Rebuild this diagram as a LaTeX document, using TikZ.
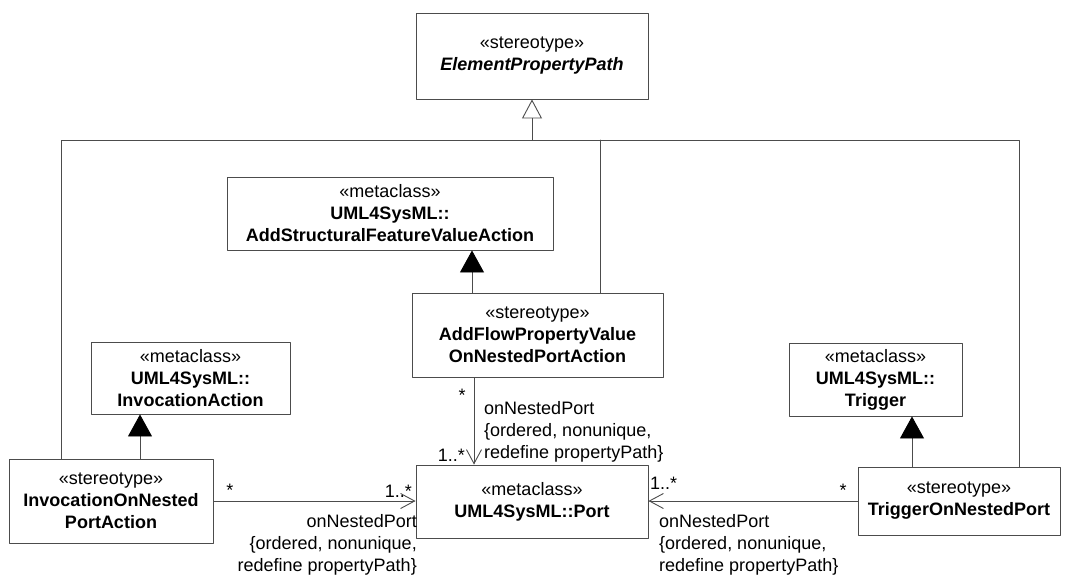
\documentclass[tikz,border=0pt]{standalone}
\usepackage{fontspec}
\setmainfont{Liberation Sans}
\usetikzlibrary{arrows.meta}
\tikzset{
  every picture/.style={line cap=round, line join=round},
  line/.style={draw=black!70, line width=0.9bp},
  box/.style={line, align=center, inner sep=0pt},
  % generalization (open triangle), extension (filled), navigable end
  gen/.style={line, -{Triangle[open, length=19bp, width=20bp, fill=white]}},
  ext/.style={line, -{Triangle[length=22bp, width=24bp, color=black, fill=black]}},
  assoc/.style={line, -{Straight Barb[length=14bp, width=15bp]}},
  mult/.style={inner sep=0pt, anchor=base},
  lbl/.style={inner sep=0pt},
}

\begin{document}
\begin{tikzpicture}[x=1bp, y=-1bp, font=\fontsize{18.07}{22.08}\selectfont]
  \useasboundingbox (0,0) rectangle (1065,578);
  % classes
  \node[box, minimum width=232bp, minimum height=86bp] (epp) at (532,56)
    {«stereotype»\\\textbf{\textit{ElementPropertyPath}}};
  \node[box, minimum width=326bp, minimum height=73bp] (asfva) at (390,213.5)
    {«metaclass»\\\textbf{UML4SysML::}\\\textbf{AddStructuralFeatureValueAction}};
  \node[box, minimum width=251bp, minimum height=84bp] (addflow) at (537.5,335)
    {«stereotype»\\\textbf{AddFlowPropertyValue}\\\textbf{OnNestedPortAction}};
  \node[box, minimum width=199bp, minimum height=72bp] (invact) at (190.5,378)
    {«metaclass»\\\textbf{UML4SysML::}\\\textbf{InvocationAction}};
  \node[box, minimum width=173bp, minimum height=73bp] (trig) at (875.5,379.5)
    {«metaclass»\\\textbf{UML4SysML::}\\\textbf{Trigger}};
  \node[box, minimum width=204bp, minimum height=84bp] (invnp) at (111,501)
    {«stereotype»\\\textbf{InvocationOnNested}\\\textbf{PortAction}};
  \node[box, minimum width=232bp, minimum height=73bp] (port) at (532,501.5)
    {«metaclass»\\\textbf{UML4SysML::Port}};
  \node[box, minimum width=202bp, minimum height=68bp] (trignp) at (959,501)
    {«stereotype»\\\textbf{TriggerOnNestedPort}};
  % where the connectors run
  \coordinate (busL) at (61,140);
  \coordinate (busR) at (1019,140);
  \coordinate (busM) at (600,140);
  \coordinate (colA) at (472,0);
  \coordinate (colB) at (140,0);
  \coordinate (colC) at (912,0);
  \coordinate (colD) at (474,0);
  % generalizations
  \draw[line] (invnp.north -| busL) -- (busL) -- (busR) -- (trignp.north -| busR);
  \draw[line] (addflow.north -| busM) -- (busM);
  \draw[gen] (epp.south |- busL) -- (epp.south);
  % extensions
  \draw[ext] (addflow.north -| colA) -- (asfva.south -| colA);
  \draw[ext] (invnp.north -| colB) -- (invact.south -| colB);
  \draw[ext] (trignp.north -| colC) -- (trig.south -| colC);
  % associations
  \draw[assoc] (invnp.east) -- (port.west |- invnp.east);
  \draw[assoc] (addflow.south -| colD) -- (port.north -| colD);
  \draw[assoc] (trignp.west) -- (port.east |- trignp.west);
  % multiplicities
  \node[mult] (m1) at (230,496) {*};
  \node[mult, anchor=base east] (m2) at (412,497) {1..*};
  \node[mult] (m3) at (462,401) {*};
  \node[mult, anchor=base east] (m4) at (465,461) {1..*};
  \node[mult, anchor=base west] (m5) at (650,489) {1..*};
  \node[mult] (m6) at (843,496) {*};
  % role names
  \node[lbl, anchor=north east, align=right] (r1) at (417,514)
    {onNestedPort\\\{ordered, nonunique,\\redefine propertyPath\}};
  \node[lbl, anchor=north west, align=left] (r2) at (484,401)
    {onNestedPort\\\{ordered, nonunique,\\redefine propertyPath\}};
  \node[lbl, anchor=north west, align=left] (r3) at (659,514)
    {onNestedPort\\\{ordered, nonunique,\\redefine propertyPath\}};
\end{tikzpicture}
\end{document}
